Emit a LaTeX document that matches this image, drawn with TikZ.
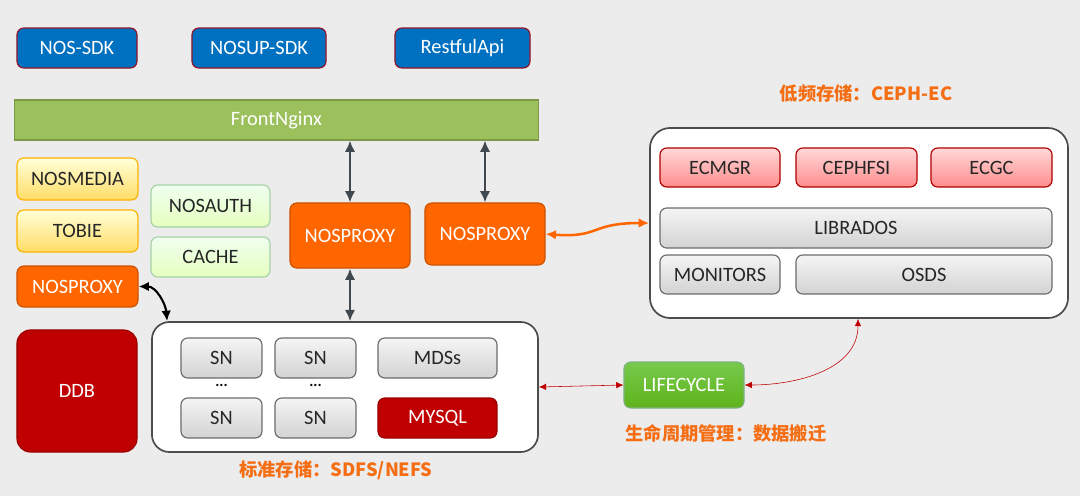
\documentclass[tikz,border=0pt]{standalone}
\usepackage{fontspec}
\setmainfont{Carlito}
\newfontfamily\cjk{Noto Sans CJK SC}
\usetikzlibrary{arrows.meta}
\definecolor{hintergrund}{RGB}{236,236,236}
\definecolor{sdkblau}{RGB}{0,112,192}
\definecolor{sdkrand}{RGB}{150,20,40}
\definecolor{nginxgruen}{RGB}{155,192,92}
\definecolor{proxyorange}{RGB}{255,102,0}
\definecolor{dunkelrot}{RGB}{192,0,0}
\definecolor{pfeilgrau}{RGB}{64,72,80}
\definecolor{labelorange}{RGB}{245,110,20}
\colorlet{proxyorange-darker}{proxyorange!80!black}

\begin{document}
\begin{tikzpicture}[x=0.025cm, y=-0.025cm, font=\fontsize{14.5}{16}\selectfont,
    box/.style={rectangle, rounded corners=1ex, thick, minimum width=3cm, minimum height=1cm, inner sep=0pt},
    sdk/.style={box, fill=sdkblau, draw=sdkrand, text=white},
    proxy/.style={box, fill=proxyorange, draw=proxyorange-darker, text=white},
    gelb/.style={box, top color=yellow!15, bottom color=yellow!55!orange!60, draw=orange!60!yellow, text=black!85},
    hellgruen/.style={box, top color=green!6, bottom color=green!20!lime!25, draw=green!50!black!35, text=black!85},
    grau/.style={box, top color=gray!8, bottom color=gray!35, draw=gray!85!black, text=black!85},
    hellrot/.style={box, top color=red!15, bottom color=red!45, draw=red!70!black, text=black!85},
    rot/.style={box, fill=dunkelrot, draw=dunkelrot!80!black, text=white},
    container/.style={rectangle, rounded corners=2.6ex, very thick, draw=black!70, fill=white, inner sep=0pt},
    tag/.style={labelorange, font=\cjk\bfseries\fontsize{13}{15}\selectfont},
    dick/.style={pfeilgrau, line width=1.8pt, {Latex[length=2.8mm,width=2.6mm]}-{Latex[length=2.8mm,width=2.6mm]}},
    duenn/.style={red!75!black, thin, {Latex[length=1.8mm,width=1.6mm]}-{Latex[length=1.8mm,width=1.6mm]}}]

    \fill[hintergrund] (0,0) rectangle (1080,496);

    % Zugriff
    \node[sdk] (sdk) at (77,48) {NOS-SDK};
    \node[sdk, minimum width=3.35cm] (supsdk) at (259,48) {NOSUP-SDK};
    \node[sdk, minimum width=3.375cm] (rest) at (462.5,48) {RestfulApi};

    \node[box, rounded corners=0pt, minimum width=13.075cm, fill=nginxgruen, draw=nginxgruen!80!black, text=white] (front) at (276.5,120) {FrontNginx};

    % linke Spalte
    \node[gelb, minimum width=3.025cm, minimum height=1.05cm] (media) at (77.5,179) {NOSMEDIA};
    \node[gelb, minimum width=3.025cm, minimum height=1.05cm] (tobie) at (77.5,231) {TOBIE};
    \node[proxy, minimum width=3.025cm, minimum height=1.025cm] (np1) at (77.5,286.5) {NOSPROXY};

    \node[hellgruen, minimum width=2.975cm, minimum height=1.05cm] (auth) at (210.5,206) {NOSAUTH};
    \node[hellgruen, minimum width=2.975cm] (cache) at (210.5,257) {CACHE};

    \node[proxy, minimum height=1.625cm] (np2) at (350,235.5) {NOSPROXY};
    \node[proxy, minimum height=1.55cm] (np3) at (485,234) {NOSPROXY};

    \node[rot, rounded corners=2ex, minimum height=3.05cm] (ddb) at (77,391) {DDB};

    % Standardspeicher
    \node[container, minimum width=9.65cm, minimum height=3.25cm] (std) at (345,387) {};
    \foreach \i/\x in {1/221.5, 2/315.5}{
            \node[grau, minimum width=2.025cm] (sn\i) at (\x,358) {SN};
            \node[grau, minimum width=2.025cm] (snb\i) at (\x,418) {SN};
            \node (dots\i) at (\x,385) {\fontsize{11}{11}\selectfont\textbf{...}};
        }
    \node[grau, minimum width=2.975cm] (mds) at (437.5,358) {MDSs};
    \node[rot, minimum width=2.975cm] (mysql) at (437.5,418) {MYSQL};
    \node[tag] (stdlabel) at (336,470) {标准存储：SDFS/NEFS};

    % CEPH-EC
    \node[container, rounded corners=3ex, minimum width=10.45cm, minimum height=4.75cm] (ceph) at (859,223) {};
    \node[tag] (cephlabel) at (866,94) {低频存储：CEPH-EC};
    \node[hellrot, minimum height=0.975cm] (ecmgr) at (720,167.5) {ECMGR};
    \node[hellrot, minimum width=3.025cm, minimum height=0.975cm] (cephfsi) at (856.5,167.5) {CEPHFSI};
    \node[hellrot, minimum width=3.025cm, minimum height=0.975cm] (ecgc) at (991.5,167.5) {ECGC};
    \node[grau, minimum width=9.8cm] (librados) at (856,228) {LIBRADOS};
    \node[grau, minimum height=0.975cm] (monitors) at (720,274.5) {MONITORS};
    \node[grau, minimum width=6.4cm, minimum height=0.975cm] (osds) at (924,274.5) {OSDS};

    % Lebenszyklus
    \node[box, minimum height=1.15cm, top color=green!55!lime!70!black!70, bottom color=green!45!black!60!lime!90, draw=green!40!black!50, text=white] (life) at (684,385) {LIFECYCLE};
    \node[tag] (lifelabel) at (726,433) {生命周期管理：数据搬迁};

    % Verbindungen
    \draw[dick] (np2.north |- front.south) -- (np2.north);
    \draw[dick] (np3.north |- front.south) -- (np3.north);
    \draw[dick] (np2.south) -- (np2.south |- std.north);
    \draw[black, line width=1.5pt, {Latex[length=2.6mm,width=2.4mm]}-{Latex[length=2.6mm,width=2.4mm]}] (np1.east) to[out=0, in=95] ([xshift=0.4cm]std.north west);
    \draw[proxyorange, line width=1.8pt, {Latex[length=2.6mm,width=2.4mm]}-{Latex[length=2.6mm,width=2.4mm]}] (np3.east) .. controls (600,238) and (590,223) .. (ceph.west);
    \draw[duenn] (std.east) -- (life.west);
    \draw[duenn] (life.east) to[out=0, in=-90] ([xshift=-0.025cm]ceph.south);

\end{tikzpicture}
\end{document}
